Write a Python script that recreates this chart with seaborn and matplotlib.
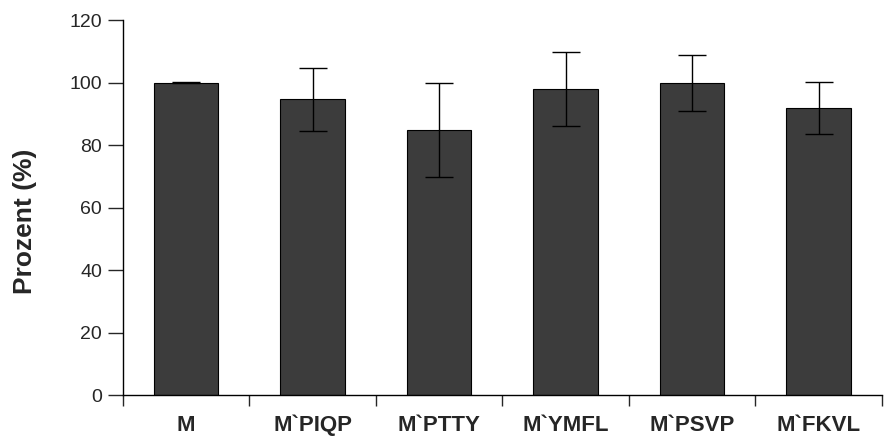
import numpy as np
import pandas as pd
import matplotlib
matplotlib.use("Agg")
import matplotlib.pyplot as plt
import seaborn as sns

# values
proben = ["M", "M`PIQP", "M`PTTY", "M`YMFL", "M`PSVP", "M`FKVL"]
prozent = [100.0, 94.7, 85.0, 97.9, 100.0, 91.9]
fehler = [0.1, 10.0, 15.0, 11.9, 8.9, 8.2]
y_ticks = [0, 20, 40, 60, 80, 100, 120]

sns.set_style("ticks")
plt.rcParams["font.family"] = ["Liberation Sans", "DejaVu Sans"]

data = pd.DataFrame({"Probe": proben, "Prozent": prozent, "Fehler": fehler})

fig = plt.figure(figsize=(8.88, 4.37), dpi=100)
ax = fig.add_axes([0.1385, 0.095, 0.8545, 0.859])

sns.barplot(data=data, x="Probe", y="Prozent", color="#3c3c3c", saturation=1,
            width=0.51, edgecolor="black", linewidth=0.8, errorbar=None, ax=ax)
ax.errorbar(np.arange(len(proben)), data["Prozent"], yerr=data["Fehler"],
            fmt="none", ecolor="black", elinewidth=1.0, capsize=10, capthick=1.0)

ax.set_ylim(0, 120)
ax.set_yticks(y_ticks)
ax.set_xlim(-0.5, len(proben) - 0.5)

# ticks between the groups, labels at the centres
ax.set_xticks(np.arange(len(proben) + 1) - 0.5)
ax.set_xticklabels([])
ax.set_xticks(np.arange(len(proben)), minor=True)
ax.set_xticklabels(proben, minor=True, fontweight="bold", fontsize=16)
ax.tick_params(axis="x", which="minor", length=0, pad=14)
ax.tick_params(axis="x", which="major", length=8, width=1, direction="out")
ax.tick_params(axis="y", length=11, width=1, labelsize=14, pad=4)

ax.set_xlabel("")
ax.set_ylabel("Prozent (%)", fontweight="bold", fontsize=19)
ax.yaxis.set_label_coords(-0.113, 0.465)

sns.despine(ax=ax)
for s in ["left", "bottom"]:
    ax.spines[s].set_linewidth(1)
    ax.spines[s].set_color("black")

fig.savefig("out.png", dpi=100)
